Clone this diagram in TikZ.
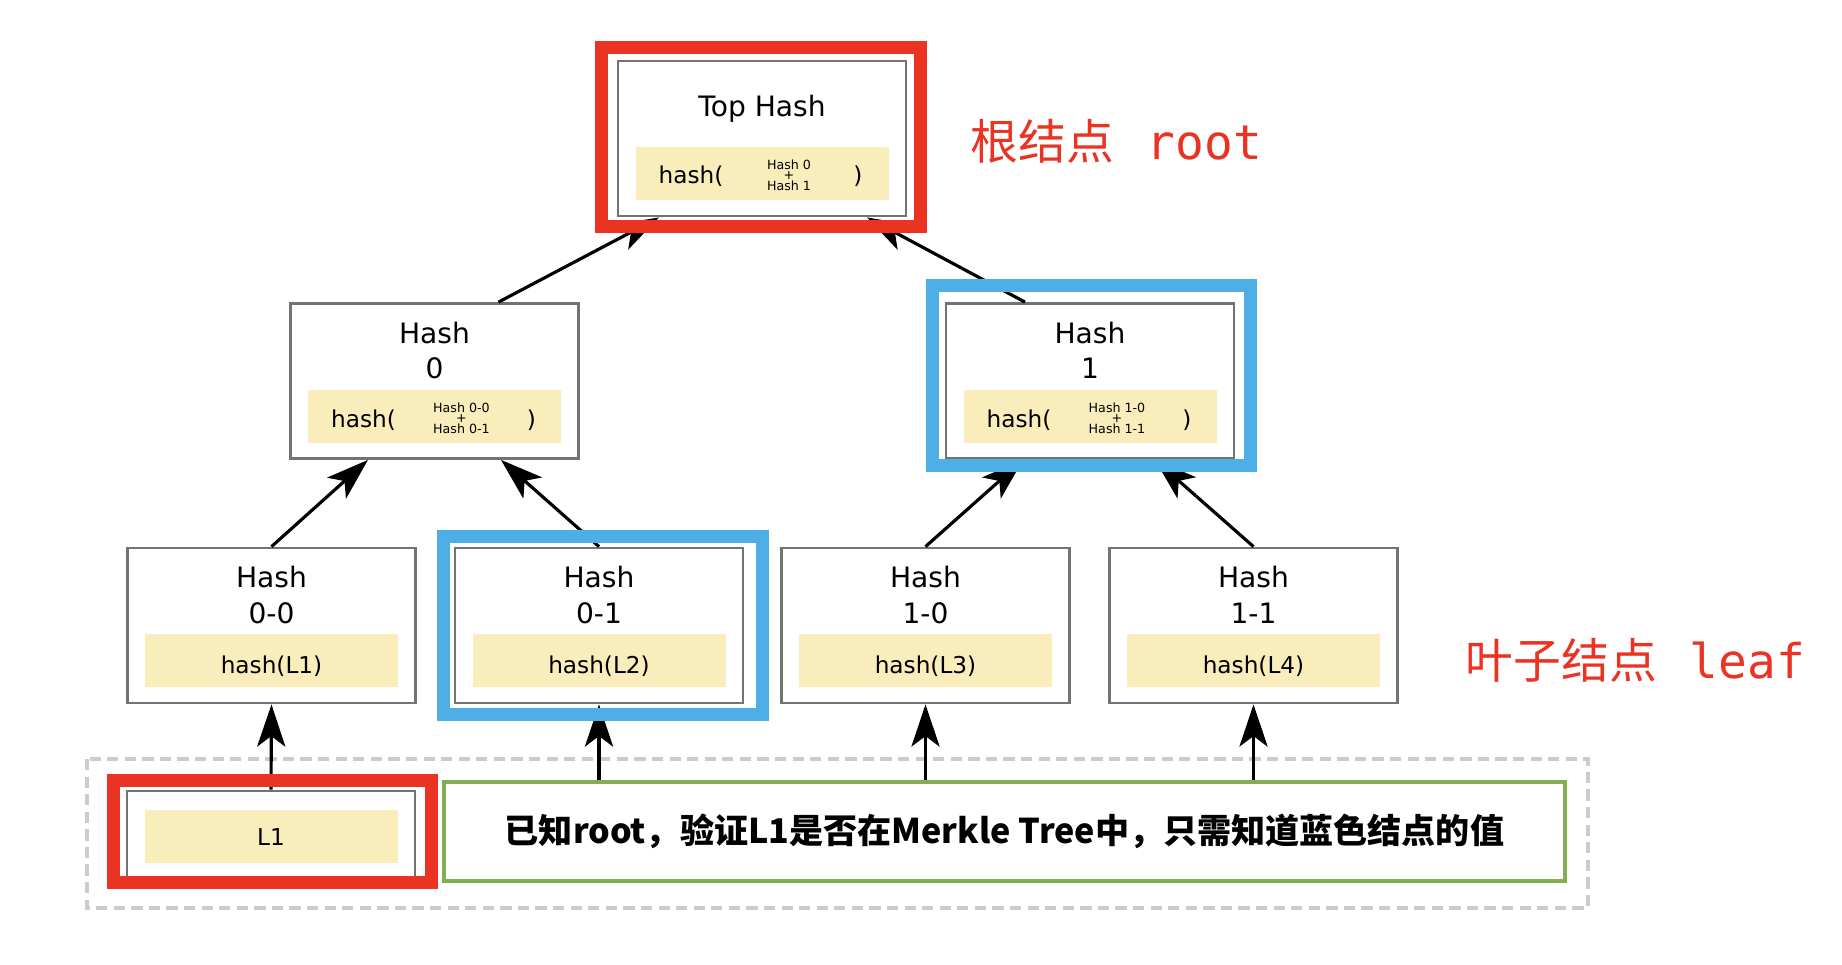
\documentclass[tikz,border=0pt]{standalone}
\usepackage{fontspec}
\setmainfont{DejaVu Sans}
\newfontfamily\cjk{Noto Sans CJK SC}
\newfontfamily\mono{DejaVu Sans Mono}
\usepackage{tikz}
\usetikzlibrary{calc,positioning,arrows.meta}

\definecolor{frmred}{RGB}{234,51,35}
\definecolor{frmblue}{RGB}{78,174,230}
\definecolor{notegreen}{RGB}{130,175,80}
\definecolor{hashyel}{RGB}{250,237,188}

\tikzset{
  hbox/.style={draw=black!55, line width=0.8pt, minimum width=2.88cm, minimum height=1.55cm, inner sep=0pt},
  ybox/.style={fill=hashyel, minimum width=2.53cm, minimum height=0.53cm, inner sep=0pt},
  ttl/.style={font=\fontsize{8}{9}\selectfont, inner sep=0pt},
  htxt/.style={font=\fontsize{6.6}{7}\selectfont, inner sep=0pt},
  sml/.style={font=\fontsize{3.6}{4}\selectfont, inner sep=0pt},
  up/.style={-{Stealth[length=12pt,width=8pt,inset=3pt]}, line width=0.9pt},
  frame/.style={line width=3.7pt},
  redlbl/.style={text=frmred, anchor=west, inner sep=0pt, font=\fontsize{13.6}{16}\selectfont}
}

\begin{document}
\begin{tikzpicture}
\useasboundingbox (0,0) rectangle (18.42,-9.64);

%Dashed area
\draw[black!20, line width=0.9pt, dash pattern=on 3.2pt off 1.8pt] (0.87,-7.59) rectangle (15.88,-9.08);

%Top hash
\node[hbox] (top) at (7.62,-1.385) {};
\node[ttl] (top-t) at ($(top.north)+(0,-0.49)$) {Top Hash};
\node[ybox] (top-y) at ($(top.north)+(0,-1.14)$) {};
\node[htxt] at ($(top-y)+(-0.71,-0.025)$) {hash(};
\node[sml] at ($(top-y)+(0.27,0.09)$) {Hash 0};
\node[sml] at ($(top-y)+(0.27,-0.015)$) {+};
\node[sml] at ($(top-y)+(0.27,-0.12)$) {Hash 1};
\node[htxt] at ($(top-y)+(0.96,-0.025)$) {)};

%Middle row
\foreach \n/\x/\i in {h0/4.345/0, h1/10.9/1}{
  \node[hbox] (\n) at (\x,-3.81) {};
  \node[ttl] at ($(\n.north)+(0,-0.305)$) {Hash};
  \node[ttl] at ($(\n.north)+(0,-0.665)$) {\i};
  \node[ybox] (\n-y) at ($(\n.north)+(0,-1.14)$) {};
  \node[htxt] at ($(\n-y)+(-0.71,-0.045)$) {hash(};
  \node[sml] at ($(\n-y)+(0.27,0.085)$) {Hash \i-0};
  \node[sml] at ($(\n-y)+(0.27,-0.02)$) {+};
  \node[sml] at ($(\n-y)+(0.27,-0.125)$) {Hash \i-1};
  \node[htxt] at ($(\n-y)+(0.97,-0.045)$) {)};
}

%Leaf row
\foreach \n/\x/\i/\l in {h00/2.715/0-0/L1, h01/5.99/0-1/L2, h10/9.255/1-0/L3, h11/12.535/1-1/L4}{
  \node[hbox] (\n) at (\x,-6.255) {};
  \node[ttl] at ($(\n.north)+(0,-0.305)$) {Hash};
  \node[ttl] at ($(\n.north)+(0,-0.67)$) {\i};
  \node[ybox] (\n-y) at ($(\n.north)+(0,-1.14)$) {};
  \node[htxt] at ($(\n-y)+(0,-0.06)$) {hash(\l)};
}

%Data block
\node[hbox, minimum height=0.87cm] (l1) at (2.71,-8.345) {};
\node[ybox] (l1-y) at ($(l1.north)+(0,-0.465)$) {};
\node[htxt] at ($(l1-y)+(0,-0.01)$) {L1};

%Note
\node[draw=notegreen, line width=1pt, minimum width=11.21cm, minimum height=0.99cm, inner sep=0pt,
  font=\cjk\bfseries\fontsize{9.7}{12}\selectfont] (note) at (10.045,-8.315)
  {已知root，验证L1是否在Merkle Tree中，只需知道蓝色结点的值};

%Arrows
\draw[up] ($(h0.north)+(0.64,0)$) -- ($(top.south)+(-1.03,0)$);
\draw[up] ($(h1.north)+(-0.65,0)$) -- ($(top.south)+(1.05,0)$);
\draw[up] (h00.north) -- ($(h0.south)+(-0.665,0)$);
\draw[up] (h01.north) -- ($(h0.south)+(0.665,0)$);
\draw[up] (h10.north) -- ($(h1.south)+(-0.67,0)$);
\draw[up] (h11.north) -- ($(h1.south)+(0.65,0)$);
\draw[up] (l1.north) -- (h00.south);
\foreach \n in {h01,h10,h11}
  \draw[up] (note.north -| \n.south) -- (\n.south);

%Frames
\draw[frmred, frame] ($(top.north west)+(-0.155,0.125)$) rectangle ($(top.south east)+(0.135,-0.095)$);
\draw[frmblue, frame] ($(h1.north west)+(-0.125,0.165)$) rectangle ($(h1.south east)+(0.15,-0.055)$);
\draw[frmblue, frame] ($(h01.north west)+(-0.105,0.105)$) rectangle ($(h01.south east)+(0.185,-0.105)$);
\draw[frmred, frame] ($(l1.north west)+(-0.125,0.095)$) rectangle ($(l1.south east)+(0.155,-0.035)$);

%Labels
\node[redlbl] (rootlbl) at (9.7,-1.41) {{\cjk 根结点}\hspace{0.04cm}{\mono\ root}};
\node[redlbl] (leaflbl) at (14.65,-6.6) {{\cjk 叶子结点}\hspace{0.04cm}{\mono\ leaf}};

\end{tikzpicture}
\end{document}
